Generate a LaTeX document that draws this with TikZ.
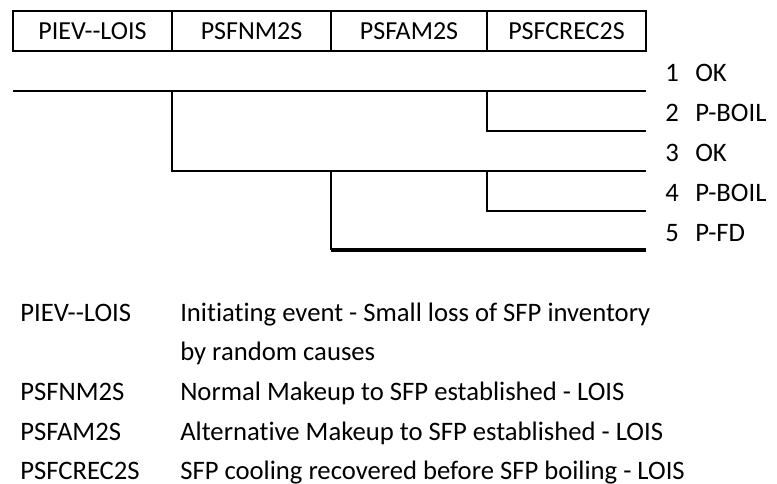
\documentclass[tikz,border=0pt]{standalone}
\usepackage{fontspec}
\setmainfont{Carlito}[Ligatures={TeX,NoCommon}]
\begin{document}
\begin{tikzpicture}[x=0.75pt,y=-0.75pt,
  font=\fontsize{20}{24}\selectfont,
  hdr/.style={draw, line width=1.1pt, minimum height=30pt, inner sep=0pt, anchor=center, font=\fontsize{19.5}{23}\selectfont},
  br/.style={line width=1pt},
  finalbr/.style={line width=3pt},
  num/.style={anchor=base, inner sep=0pt},
  lab/.style={anchor=base west, inner sep=0pt},
  code/.style={anchor=base west, inner sep=0pt}]
\useasboundingbox (0,0) rectangle (777,484);
% header
\node[hdr, minimum width=119.25pt] (h1) at (92.5,31) {PIEV-{}-LOIS};
\node[hdr, minimum width=119.25pt] (h2) at (251.5,31) {PSFNM2S};
\node[hdr, minimum width=117pt] (h3) at (409,31) {PSFAM2S};
\node[hdr, minimum width=119.25pt] (h4) at (566.5,31) {PSFCREC2S};
% tree coordinates
\coordinate (s) at (13,91);
\coordinate (e1) at (646,91);
\coordinate (b1) at (172,91);
\coordinate (b1d) at (172,171);
\coordinate (e3) at (646,171);
\coordinate (b2) at (487,91);
\coordinate (b2d) at (487,131);
\coordinate (e2) at (646,131);
\coordinate (b3) at (331,171);
\coordinate (b3d) at (331,250);
\coordinate (e5) at (646,250);
\coordinate (b4) at (487,171);
\coordinate (b4d) at (487,211);
\coordinate (e4) at (646,211);
\draw[br] (s) -- (e1);
\draw[br] (b1) -- (b1d) -- (e3);
\draw[br] (b2) -- (b2d) -- (e2);
\draw[br] (b4) -- (b4d) -- (e4);
\draw[br] (b3) -- (b3d);
\draw[finalbr] (b3d) -- (e5);
% end-state labels
\node[num] (n1) at (672,82) {1};
\node[lab] (l1) at (695,82) {OK};
\node[num] (n2) at (672,122) {2};
\node[lab] (l2) at (695,122) {P-BOIL};
\node[num] (n3) at (672,162) {3};
\node[lab] (l3) at (695,162) {OK};
\node[num] (n4) at (672,202) {4};
\node[lab] (l4) at (695,202) {P-BOIL};
\node[num] (n5) at (672,242) {5};
\node[lab] (l5) at (695,242) {P-FD};
% legend
\node[code] (c1) at (20,321) {PIEV-{}-LOIS};
\node[code] (d1) at (180,321) {Initiating event - Small loss of SFP inventory};
\node[code] (d1b) at (180,360) {by random causes};
\node[code] (c2) at (20,400) {PSFNM2S};
\node[code] (d2) at (180,400) {Normal Makeup to SFP established - LOIS};
\node[code] (c3) at (20,440) {PSFAM2S};
\node[code] (d3) at (180,440) {Alternative Makeup to SFP established - LOIS};
\node[code] (c4) at (20,479) {PSFCREC2S};
\node[code] (d4) at (180,479) {SFP cooling recovered before SFP boiling - LOIS};
\end{tikzpicture}
\end{document}
